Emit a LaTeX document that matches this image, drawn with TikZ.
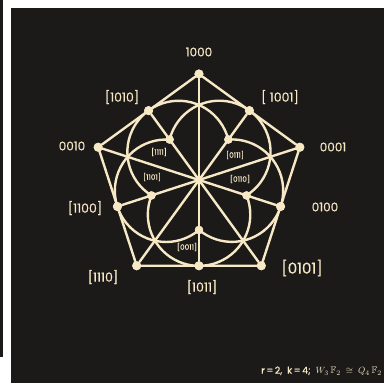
\documentclass[tikz,border=0pt]{standalone}
\usepackage{fontspec}
\usepackage{amssymb}
\setmainfont{Poppins}[FakeBold=0.6]
\definecolor{bg}{HTML}{1B1A19}
\definecolor{cr}{HTML}{F7E8C6}
\begin{document}
\begin{tikzpicture}[x=1pt,y=1pt,
  edge/.style={draw=cr,line width=2.4pt,line join=round,line cap=round},
  dot/.style={circle,fill=cr,inner sep=0pt,minimum size=9pt},
  idot/.style={circle,fill=cr,inner sep=0pt,minimum size=8.4pt},
  lbl/.style={text=cr,inner sep=0pt,font=\fontsize{12}{12}\selectfont},
  blbl/.style={text=cr,inner sep=0pt,font=\fontsize{12.5}{13}\selectfont},
  slbl/.style={text=cr,inner sep=0pt,font=\fontsize{7.3}{7.3}\selectfont}]
\fill[white] (-199,-203) rectangle (185,180);
\fill[bg] (-199,180) rectangle (-196,-177);
\fill[bg] (-188,172) rectangle (185,-203);
\useasboundingbox (-199,-203) rectangle (185,180);
% points
\node[dot] (v1000) at (90:106) {};
\node[dot] (v0001) at (18:106) {};
\node[dot] (v0101) at (-54:106) {};
\node[dot] (v1110) at (234:106) {};
\node[dot] (v0010) at (162:106) {};
\node[dot] (m1001) at (54:85.76) {};
\node[dot] (m0100) at (-18:85.76) {};
\node[dot] (m1011) at (-90:85.76) {};
\node[dot] (m1100) at (198:85.76) {};
\node[dot] (m1010) at (126:85.76) {};
\node[idot] (i0111) at (54:50) {};
\node[idot] (i0110) at (-18:50) {};
\node[idot] (i0011) at (-90:50) {};
\node[idot] (i1101) at (198:50) {};
\node[idot] (i1111) at (126:50) {};
% curved lines: midpoint + two inner points
\draw[edge] (i1111.center) arc[start angle=166, end angle=-58, radius=51.23];
\draw[edge] (i1101.center) arc[start angle=238, end angle=14, radius=51.23];
\draw[edge] (i0011.center) arc[start angle=310, end angle=86, radius=51.23];
\draw[edge] (i0110.center) arc[start angle=382, end angle=158, radius=51.23];
\draw[edge] (i0111.center) arc[start angle=454, end angle=230, radius=51.23];
% pentagon
\draw[edge] (v1000) -- (m1001) -- (v0001) -- (m0100) -- (v0101) -- (m1011) -- (v1110) -- (m1100) -- (v0010) -- (m1010) -- (v1000);
% straight lines through the centre
\draw[edge] (v1000) -- (m1011);
\draw[edge] (v0001) -- (m1100);
\draw[edge] (v0101) -- (m1010);
\draw[edge] (v1110) -- (m1001);
\draw[edge] (v0010) -- (m0100);
% dots on top
\foreach \p in {v1000,v0001,v0101,v1110,v0010,m1001,m0100,m1011,m1100,m1010}
  \fill[cr] (\p) circle (4.5pt);
\foreach \p in {i0111,i0110,i0011,i1101,i1111}
  \fill[cr] (\p) circle (4.2pt);
% labels
\node[lbl] (t1000) at (0,128) {1000};
\node[blbl] (t1010) at (-77,83) {[1010]};
\node[blbl] (t1001) at (81,83) {[ 1001]};
\node[lbl] (t0010) at (-127,34) {0010};
\node[lbl] (t0001) at (134,33) {0001};
\node[blbl] (t1100) at (-114,-28) {[1100]};
\node[lbl] (t0100) at (126,-27) {0100};
\node[blbl] (t1110) at (-96,-97) {[1110]};
\node[blbl,font=\fontsize{15}{15}\selectfont] (t0101) at (103,-88) {[0101]};
\node[blbl] (t1011) at (3,-107) {[1011]};
\node[slbl] (t1111) at (-40,28) {[1111]};
\node[slbl] (t0111) at (36,25) {[0111]};
\node[slbl] (t1101) at (-47,3) {[1101]};
\node[slbl] (t0110) at (41,1) {[0110]};
\node[slbl] (t0011) at (-12,-67) {[0011]};
\node[text=cr,inner sep=0pt,font=\fontsize{9.5}{9.5}\selectfont,anchor=east] (form) at (183,-191)
  {r\,=\,2,\ \ k\,=\,4;\ \ $W_{3}\,\mathbb{F}_{2}\ \cong\ Q_{4}\,\mathbb{F}_{2}$};
\end{tikzpicture}
\end{document}
